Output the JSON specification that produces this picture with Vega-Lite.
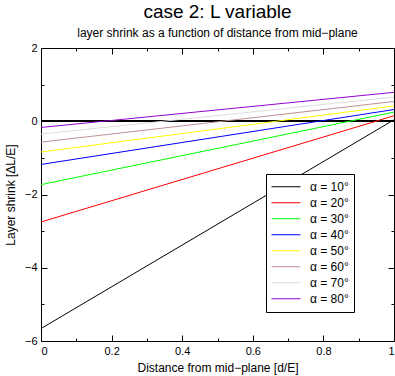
{
  "$schema": "https://vega.github.io/schema/vega-lite/v6.json",
  "width": 353,
  "height": 293,
  "autosize": {"type": "none"},
  "padding": {"left": 41, "top": 48, "right": 1, "bottom": 35},
  "background": "white",
  "config": {
    "font": "Liberation Sans",
    "view": {"stroke": "black", "strokeWidth": 1},
    "axis": {"domain": false, "grid": false, "tickColor": "black", "labelColor": "black", "titleColor": "black", "labelFont": "Liberation Sans", "titleFont": "Liberation Sans", "labelFontSize": 11, "titleFontSize": 12, "titleFontWeight": "normal"},
    "legend": {"labelFont": "Liberation Sans"}
  },
  "title": {
    "text": "case 2: L variable",
    "subtitle": "layer shrink as a function of distance from mid−plane",
    "fontSize": 19,
    "fontWeight": "normal",
    "subtitleFontSize": 12,
    "subtitleColor": "black",
    "color": "black",
    "anchor": "middle",
    "offset": 3,
    "subtitlePadding": 6
  },
  "data": {
    "values": [
      {"alpha": "α = 10°", "d": 0, "v": -5.66}, {"alpha": "α = 10°", "d": 1, "v": 0.04},
      {"alpha": "α = 20°", "d": 0, "v": -2.75}, {"alpha": "α = 20°", "d": 1, "v": 0.15},
      {"alpha": "α = 30°", "d": 0, "v": -1.73}, {"alpha": "α = 30°", "d": 1, "v": 0.25},
      {"alpha": "α = 40°", "d": 0, "v": -1.18}, {"alpha": "α = 40°", "d": 1, "v": 0.32},
      {"alpha": "α = 50°", "d": 0, "v": -0.84}, {"alpha": "α = 50°", "d": 1, "v": 0.42},
      {"alpha": "α = 60°", "d": 0, "v": -0.57}, {"alpha": "α = 60°", "d": 1, "v": 0.54},
      {"alpha": "α = 70°", "d": 0, "v": -0.35}, {"alpha": "α = 70°", "d": 1, "v": 0.66},
      {"alpha": "α = 80°", "d": 0, "v": -0.17}, {"alpha": "α = 80°", "d": 1, "v": 0.79}
    ]
  },
  "resolve": {"axis": {"x": "independent", "y": "independent"}},
  "layer": [
    {
      "mark": {"type": "rule", "color": "black", "strokeWidth": 1},
      "encoding": {
        "y": {"datum": 0, "type": "quantitative", "scale": {"domain": [-6, 2], "nice": false, "zero": false},
          "axis": {"orient": "left", "title": "Layer shrink [ΔL/E]", "values": [-6, -5, -4, -3, -2, -1, 0, 1, 2],
            "tickSize": {"condition": {"test": "datum.value % 2 === 0", "value": -6}, "value": -3},
            "labelExpr": "datum.value % 2 === 0 ? format(datum.value, 'd') : ''",
            "labelPadding": 10, "titlePadding": 7}}
      }
    },
    {
      "mark": {"type": "line", "strokeWidth": 1, "clip": true},
      "encoding": {
        "x": {"field": "d", "type": "quantitative", "scale": {"domain": [0, 1], "nice": false, "zero": false},
          "axis": {"orient": "bottom", "title": "Distance from mid−plane [d/E]", "values": [0, 0.1, 0.2, 0.3, 0.4, 0.5, 0.6, 0.7, 0.8, 0.9, 1],
            "tickSize": {"condition": {"test": "abs(datum.value*5 - round(datum.value*5)) < 0.001", "value": -6}, "value": -3},
            "labelExpr": "abs(datum.value*5 - round(datum.value*5)) < 0.001 ? format(datum.value, '.1~f') : ''",
            "labelPadding": 10, "titlePadding": 6}},
        "y": {"field": "v", "type": "quantitative", "scale": {"domain": [-6, 2], "nice": false, "zero": false},
          "axis": {"orient": "right", "title": null, "labels": false, "values": [-6, -5, -4, -3, -2, -1, 0, 1, 2],
            "tickSize": {"condition": {"test": "datum.value % 2 === 0", "value": -6}, "value": -3}}},
        "color": {"field": "alpha", "type": "nominal",
          "scale": {"domain": ["α = 10°", "α = 20°", "α = 30°", "α = 40°", "α = 50°", "α = 60°", "α = 70°", "α = 80°"],
            "range": ["#000000", "#ff0000", "#00ff00", "#0000ff", "#ffff00", "#c09090", "#dcdcdc", "#9400d3"]},
          "legend": {"title": null, "orient": "none", "legendX": 225, "legendY": 126, "symbolType": "stroke", "symbolSize": 841, "symbolStrokeWidth": 1,
            "strokeColor": "black", "fillColor": "white", "padding": 5, "labelFontSize": 12, "labelColor": "black", "clipHeight": 15.5, "rowPadding": 0, "labelOffset": 9}}
      }
    },
    {
      "mark": {"type": "line", "opacity": 0},
      "encoding": {
        "x": {"field": "d", "type": "quantitative", "scale": {"domain": [0, 1], "nice": false, "zero": false},
          "axis": {"orient": "top", "title": null, "labels": false, "values": [0, 0.1, 0.2, 0.3, 0.4, 0.5, 0.6, 0.7, 0.8, 0.9, 1],
            "tickSize": {"condition": {"test": "abs(datum.value*5 - round(datum.value*5)) < 0.001", "value": -6}, "value": -3}}},
        "y": {"field": "v", "type": "quantitative", "scale": {"domain": [-6, 2], "nice": false, "zero": false}, "axis": null},
        "detail": {"field": "alpha"}
      }
    }
  ]
}
